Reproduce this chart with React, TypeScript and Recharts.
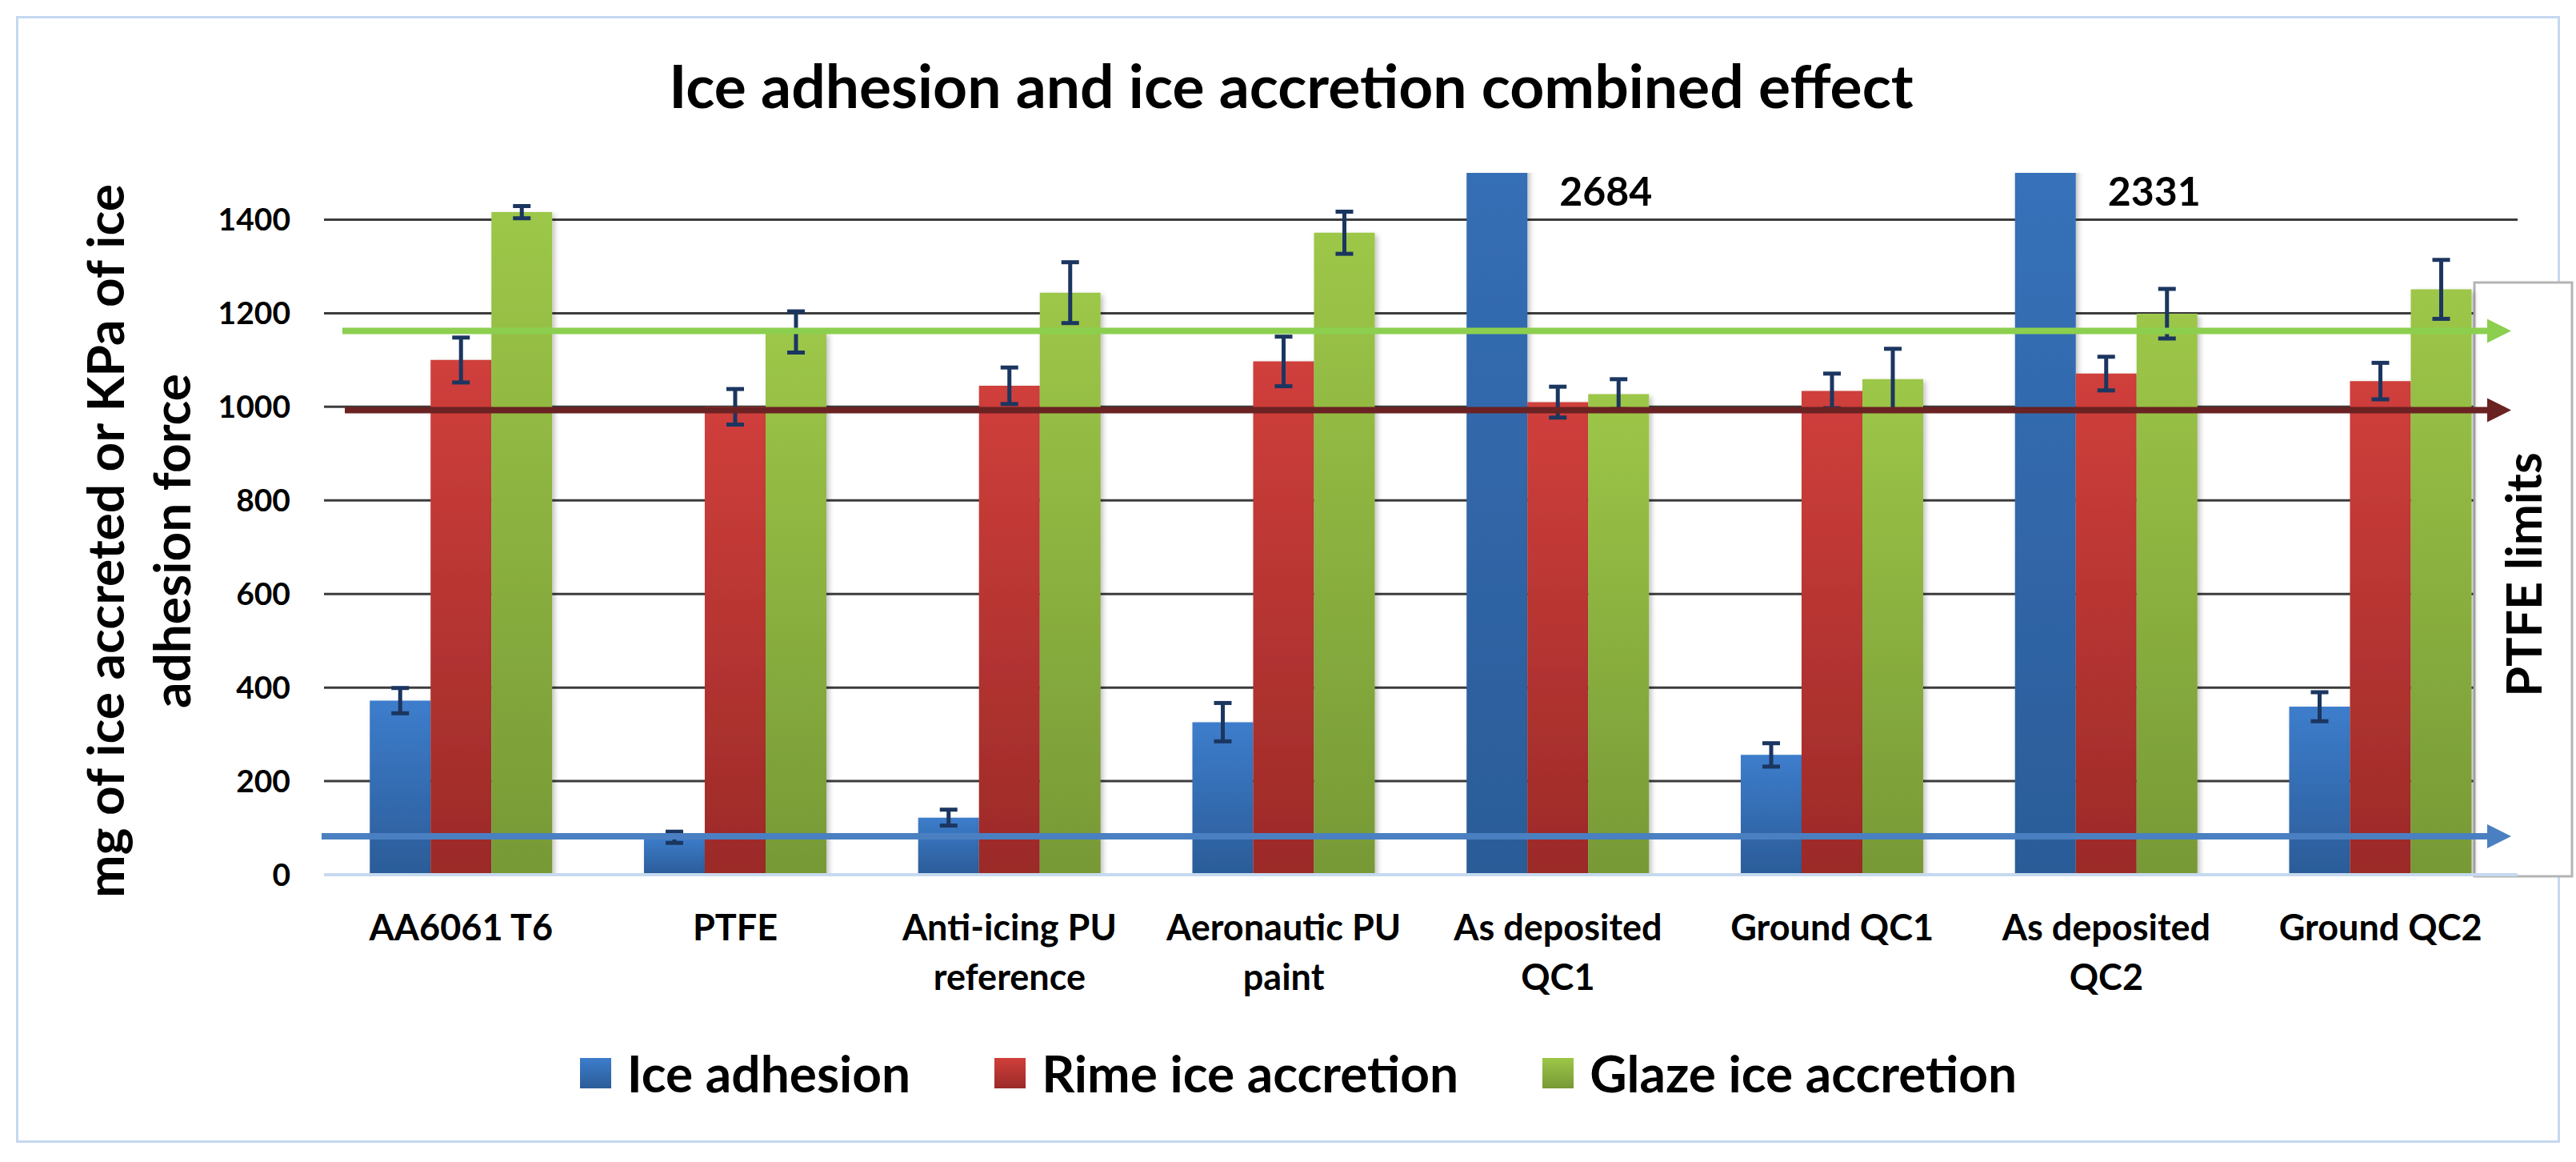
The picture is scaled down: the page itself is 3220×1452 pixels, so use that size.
import React from 'react';
import { BarChart, Bar, XAxis, YAxis, CartesianGrid, ErrorBar, ReferenceLine, LabelList } from 'recharts';

const categories = [
  'AA6061 T6',
  'PTFE',
  'Anti-icing PU\nreference',
  'Aeronautic PU\npaint',
  'As deposited\nQC1',
  'Ground QC1',
  'As deposited\nQC2',
  'Ground QC2',
];
const iceAdhesion = [372, 80, 122, 326, 2684, 256, 2331, 359];
const iceAdhesionErr = [27, 12, 17, 41, null, 25, null, 31];
const rimeAccretion = [1100, 1000, 1045, 1097, 1010, 1034, 1071, 1055];
const rimeErr = [48, 38, 39, 53, 33, 37, 36, 39];
const glazeAccretion = [1416, 1160, 1244, 1372, 1027, 1059, 1199, 1251];
const glazeErr = [13, 44, 65, 45, 32, 65, 53, 63];
// PTFE levels drawn as arrows: ice adhesion, rime, glaze
const ptfeLimits = [82, 993, 1162];
const yTicks = [0, 200, 400, 600, 800, 1000, 1200, 1400];
const seriesNames = ['Ice adhesion', 'Rime ice accretion', 'Glaze ice accretion'];

const data = categories.map((name, i) => ({
  name,
  adhesion: iceAdhesion[i],
  adhesionErr: iceAdhesionErr[i],
  rime: rimeAccretion[i],
  rimeErr: rimeErr[i],
  glaze: glazeAccretion[i],
  glazeErr: glazeErr[i],
}));

const FONT = 'Lato, "Open Sans", sans-serif';
const Y_MAX = 1500;
const LABEL_LEVEL = 1430;

const swatches = [
  ['#3d7dcc', '#2b5c98'],
  ['#d03f3b', '#9b2a28'],
  ['#9dc748', '#779936'],
];

const CategoryTick = (props: any) => {
  const { x, y, payload } = props;
  const lines = String(payload.value).split('\n');
  return (
    <text x={x} y={y} textAnchor="middle" fontFamily={FONT} fontWeight={700} fontSize={45} fill="#000">
      {lines.map((l, i) => (
        <tspan key={i} x={x} dy={i === 0 ? 82 : 62}>
          {l}
        </tspan>
      ))}
    </text>
  );
};

const makeArrow = (color: string, startOffset: number) => (props: any) => {
  const { x1, y1, x2 } = props;
  const tip = x2 - 8;
  const headLen = 30;
  return (
    <g>
      <line x1={x1 + startOffset} y1={y1} x2={tip - headLen + 2} y2={y1} stroke={color} strokeWidth={8} />
      <polygon points={`${tip - headLen},${y1 - 15} ${tip},${y1} ${tip - headLen},${y1 + 15}`} fill={color} />
    </g>
  );
};

const BigValueLabel = (props: any) => {
  const { x, y, width, height, value } = props;
  if (value <= Y_MAX) return null;
  const bottom = y + height;
  const baseline = bottom - (LABEL_LEVEL * height) / value;
  return (
    <text x={x + width + 40} y={baseline} fontFamily={FONT} fontWeight={700} fontSize={50} fill="#000">
      {value}
    </text>
  );
};

const YTitle = () => {
  const cy = 676;
  return (
    <g fontFamily={FONT} fontWeight={700} fontSize={64} fill="#000">
      <text x={155} y={cy} textAnchor="middle" transform={`rotate(-90, 155, ${cy})`}>
        mg of ice accreted or KPa of ice
      </text>
      <text x={238} y={cy} textAnchor="middle" transform={`rotate(-90, 238, ${cy})`}>
        adhesion force
      </text>
    </g>
  );
};

export default function App() {
  return (
    <div style={{ position: 'absolute', left: 0, top: 0, width: 3220, height: 1452, background: '#fff' }}>
      <div
        style={{
          position: 'absolute',
          left: 20,
          top: 20,
          width: 3180,
          height: 1408,
          boxSizing: 'border-box',
          border: '3px solid #c5d8ef',
        }}
      />
      <div
        style={{
          position: 'absolute',
          left: 0,
          width: 3220,
          top: 66,
          textAlign: 'center',
          fontFamily: FONT,
          fontWeight: 700,
          fontSize: 75,
          lineHeight: '80px',
          paddingLeft: 8,
          boxSizing: 'border-box',
        }}
      >
        Ice adhesion and ice accretion combined effect
      </div>
      <div style={{ position: 'absolute', left: 0, top: 0 }}>
        <BarChart
          width={3220}
          height={1452}
          data={data}
          margin={{ top: 216, right: 73, bottom: 259, left: 305 }}
          barCategoryGap="16.7%"
          barGap={0}
        >
          <defs>
            {swatches.map((c, i) => (
              <linearGradient key={i} id={`grad${i}`} x1="0" y1="0" x2="0" y2="1">
                <stop offset="0%" stopColor={c[0]} />
                <stop offset="100%" stopColor={c[1]} />
              </linearGradient>
            ))}
            <filter id="barShadow" x="-10%" y="-10%" width="130%" height="130%">
              <feDropShadow dx="3" dy="3" stdDeviation="3" floodColor="#000" floodOpacity="0.25" />
            </filter>
          </defs>
          <CartesianGrid vertical={false} stroke="#3c3c3c" strokeWidth={3} horizontalValues={yTicks.slice(1)} />
          <XAxis
            dataKey="name"
            height={100}
            tickSize={0}
            tickMargin={0}
            tickLine={false}
            axisLine={{ stroke: '#c6d9f0', strokeWidth: 4 }}
            tick={<CategoryTick />}
            interval={0}
          />
          <YAxis
            width={100}
            domain={[0, Y_MAX]}
            ticks={yTicks}
            allowDataOverflow
            axisLine={false}
            tickLine={false}
            tickSize={0}
            tickMargin={42}
            tick={{ fontFamily: FONT, fontWeight: 700, fontSize: 39, fill: '#000' }}
            label={<YTitle />}
          />
          <Bar dataKey="adhesion" name={seriesNames[0]} fill="url(#grad0)" filter="url(#barShadow)" isAnimationActive={false}>
            <ErrorBar dataKey="adhesionErr" width={11} strokeWidth={5} stroke="#1b3660" />
            <LabelList dataKey="adhesion" content={<BigValueLabel />} />
          </Bar>
          <Bar dataKey="rime" name={seriesNames[1]} fill="url(#grad1)" filter="url(#barShadow)" isAnimationActive={false}>
            <ErrorBar dataKey="rimeErr" width={11} strokeWidth={5} stroke="#1b3660" />
          </Bar>
          <Bar dataKey="glaze" name={seriesNames[2]} fill="url(#grad2)" filter="url(#barShadow)" isAnimationActive={false}>
            <ErrorBar dataKey="glazeErr" width={11} strokeWidth={5} stroke="#1b3660" />
          </Bar>
          <g>
            <rect x={3093} y={353} width={122} height={742} fill="#fff" stroke="#b4b4b4" strokeWidth={3} />
            <text
              x={3177}
              y={718}
              textAnchor="middle"
              transform="rotate(-90, 3177, 718)"
              fontFamily={FONT}
              fontWeight={700}
              fontSize={61}
              fill="#000"
            >
              PTFE limits
            </text>
          </g>
          <ReferenceLine y={ptfeLimits[2]} stroke="#8ccf4f" shape={makeArrow('#8ccf4f', 23)} />
          <ReferenceLine y={ptfeLimits[1]} stroke="#6a2222" shape={makeArrow('#6a2222', 26)} />
          <ReferenceLine y={ptfeLimits[0]} stroke="#4a80c2" shape={makeArrow('#4a80c2', -3)} />
        </BarChart>
      </div>
      <div
        style={{
          position: 'absolute',
          left: 0,
          width: 3220,
          top: 1296,
          display: 'flex',
          justifyContent: 'center',
          alignItems: 'center',
          fontFamily: FONT,
          fontWeight: 700,
          fontSize: 64,
          lineHeight: '90px',
          paddingLeft: 26,
          boxSizing: 'border-box',
        }}
      >
        {seriesNames.map((n, i) => (
          <div key={n} style={{ display: 'flex', alignItems: 'center', marginRight: i < 2 ? 105 : 0 }}>
            <div
              style={{
                width: 39,
                height: 38,
                marginRight: 20,
                background: `linear-gradient(${swatches[i][0]}, ${swatches[i][1]})`,
              }}
            />
            <span>{n}</span>
          </div>
        ))}
      </div>
    </div>
  );
}
